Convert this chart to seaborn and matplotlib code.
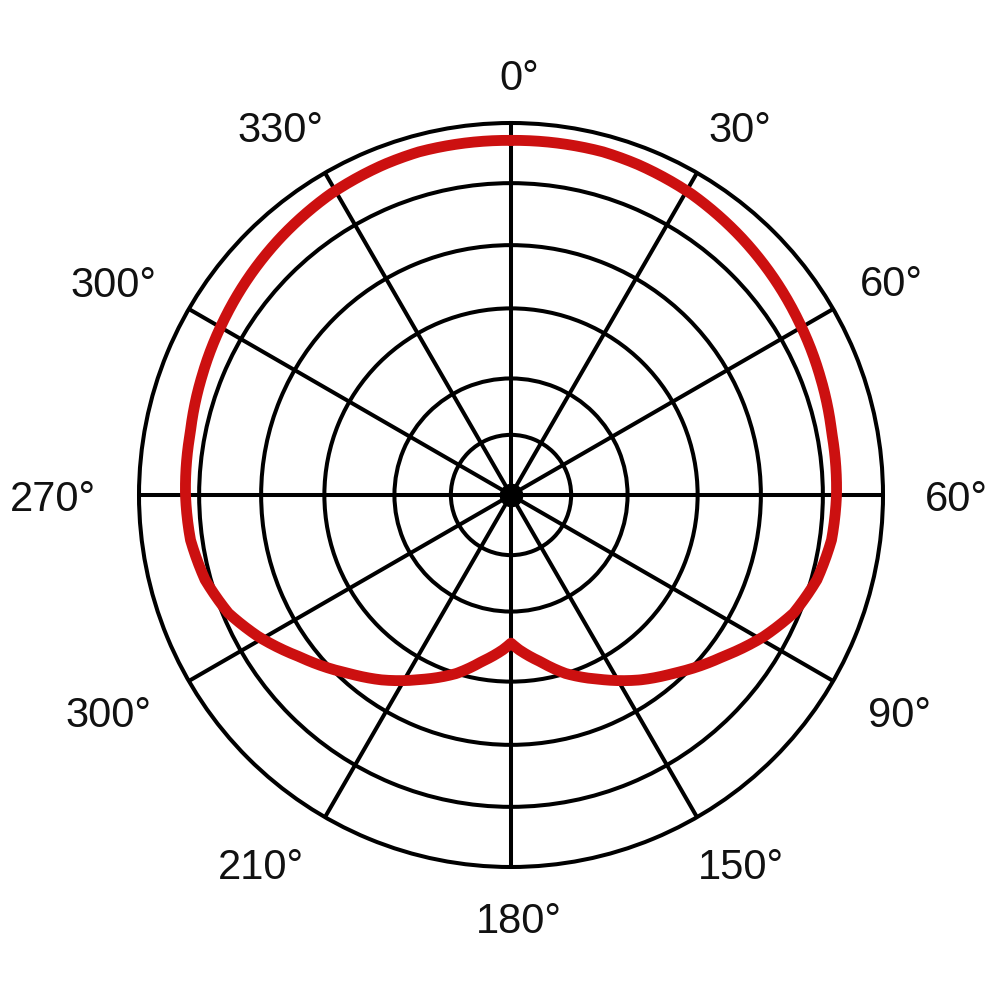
import numpy as np
import pandas as pd
import matplotlib
matplotlib.use("Agg")
import matplotlib.pyplot as plt
import seaborn as sns

# Polar pattern (half, 0..180 deg, symmetric about the 0-180 axis); radius in ring units (outer ring = 6)
half_angles_deg = [0, 15, 21, 31, 42, 50, 59, 69, 79, 90, 98, 105.5, 112.7, 119.3, 127.3, 137.7, 145, 154, 163, 170, 177, 180]
half_radius = [5.72, 5.73, 5.71, 5.66, 5.57, 5.50, 5.42, 5.34, 5.27, 5.25, 5.22, 5.12, 4.94, 4.67, 4.30, 3.89, 3.64, 3.31, 3.01, 2.73, 2.50, 2.39]

# Grid
spoke_angles_deg = [0, 30, 60, 90, 120, 150, 180, 210, 240, 270, 300, 330]
ring_radii = [0.97, 1.88, 3.01, 4.03, 5.03]
r_max = 6.0

# Tick labels as printed in the reference (one per spoke, clockwise from top)
tick_labels = ["0°", "30°", "60°", "60°", "90°", "150°", "180°", "210°", "300°", "270°", "300°", "330°"]

# full closed curve by mirroring the symmetric half
ang_full = half_angles_deg + [360 - a for a in half_angles_deg[::-1][1:]]
rad_full = half_radius + half_radius[::-1][1:]
df = pd.DataFrame({"theta": np.deg2rad(ang_full), "r": rad_full})

sns.set_theme(style="white")
plt.rcParams["font.family"] = ["Liberation Sans", "DejaVu Sans"]

fig = plt.figure(figsize=(10, 10), dpi=100)
ax = fig.add_axes([0.139, 0.133, 0.744, 0.744], projection="polar")
ax.set_theta_zero_location("N")
ax.set_theta_direction(-1)
ax.set_ylim(0, r_max)

ax.set_xticks(np.deg2rad(spoke_angles_deg))
ax.set_xticklabels([])
ax.set_yticks(ring_radii)
ax.set_yticklabels([])
ax.grid(True, color="black", linewidth=2.9)
ax.spines["polar"].set_color("black")
ax.spines["polar"].set_linewidth(2.9)
ax.set_axisbelow(True)
ax.tick_params(length=0)

sns.lineplot(data=df, x="theta", y="r", ax=ax, sort=False, color="#cc1010",
             linewidth=7.8, estimator=None, zorder=3)
ax.set_xlabel("")
ax.set_ylabel("")
# draw segments as curves in polar space (library interpolation of the path)
for ln in ax.get_lines():
    ln.get_path()._interpolation_steps = 40
    ln.set_solid_joinstyle("round")

# center hub
ax.plot([0], [0], marker="o", markersize=16, color="black", zorder=4, clip_on=False)

# angle labels, placed just outside the outer ring
label_pos = [(1.1, 6.76), (32, 6.98), (60.8, 7.02), (90.3, 7.18), (119.3, 7.19), (148.1, 7.03),
             (178.9, 6.84), (214, 7.20), (241.6, 7.39), (269.7, 7.39), (298, 7.26), (327.9, 6.99)]
for (a, rl), lab in zip(label_pos, tick_labels):
    ax.annotate(lab, xy=(np.deg2rad(a), rl), xytext=(0, -2), textcoords="offset points",
                ha="center", va="center", fontsize=30, color="#111111",
                annotation_clip=False)

fig.savefig("out.png", dpi=100, facecolor="white")
